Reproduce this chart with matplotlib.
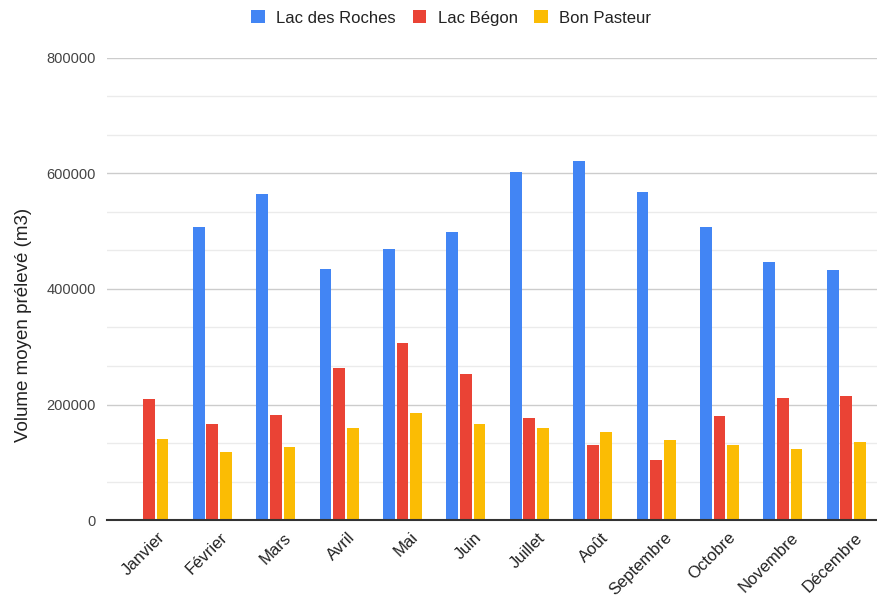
import numpy as np
import matplotlib
matplotlib.use("Agg")
import matplotlib.pyplot as plt
from matplotlib.ticker import MultipleLocator
from matplotlib.transforms import ScaledTranslation

mois = ["Janvier", "Février", "Mars", "Avril", "Mai", "Juin", "Juillet",
        "Août", "Septembre", "Octobre", "Novembre", "Décembre"]
lac_roches = [0, 508000, 565000, 434000, 469000, 499000, 603000,
              621000, 568000, 508000, 446000, 432000]
lac_begon = [210000, 166000, 182000, 263000, 307000, 252000, 176000,
             130000, 104000, 180000, 212000, 215000]
bon_pasteur = [140000, 118000, 127000, 159000, 185000, 166000, 159000,
               153000, 139000, 130000, 123000, 136000]

plt.rcParams['font.family'] = ['Liberation Sans', 'DejaVu Sans']

fig = plt.figure(figsize=(8.78, 6.02), dpi=100)
ax = fig.add_axes([0.122, 0.136, 0.878, 0.768])

x = np.arange(len(mois))
w = 0.185
gap = 0.03
series = [(lac_roches, "Lac des Roches", "#4285F4"),
          (lac_begon, "Lac Bégon", "#EA4335"),
          (bon_pasteur, "Bon Pasteur", "#FBBC04")]
for i, (vals, name, col) in enumerate(series):
    ax.bar(x + (i - 1) * (w + gap), vals, w, color=col, label=name, zorder=3)

ax.set_ylim(0, 800000)
ax.set_xlim(-0.66, 11.5)
ax.yaxis.set_major_locator(MultipleLocator(200000))
ax.yaxis.set_minor_locator(MultipleLocator(200000 / 3))
ax.grid(axis='y', which='major', color='#cccccc', linewidth=1, zorder=0)
ax.grid(axis='y', which='minor', color='#ebebeb', linewidth=1, zorder=0)
ax.tick_params(axis='y', which='both', length=0, labelsize=10.5, colors='#444444', pad=8)
ax.tick_params(axis='x', length=0, labelsize=12, colors='#222222', pad=7)

for s in ['top', 'right', 'left']:
    ax.spines[s].set_visible(False)
ax.spines['bottom'].set_color('#333333')
ax.spines['bottom'].set_linewidth(1.5)
ax.spines['bottom'].set_zorder(4)

ax.set_xticks(x)
ax.set_xticklabels(mois, rotation=45, ha='right', rotation_mode='anchor')
shift = ScaledTranslation(8 / 100, 0, fig.dpi_scale_trans)
for lab in ax.get_xticklabels():
    lab.set_transform(lab.get_transform() + shift)

ax.set_ylabel("Volume moyen prélevé (m3)", fontsize=13.5, color='#222222')
ax.yaxis.set_label_coords(-0.098, 0.422)

fig.legend(loc='center', bbox_to_anchor=(0.514, 0.97), ncol=3, frameon=False,
           fontsize=12, handlelength=0.8, handleheight=0.8, handletextpad=0.7,
           columnspacing=1.0, labelcolor='#222222')

fig.savefig("out.png", dpi=100)
